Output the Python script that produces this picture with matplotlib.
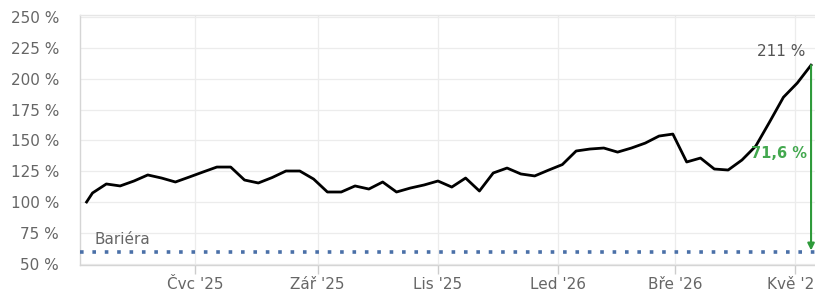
import numpy as np
import pandas as pd
import matplotlib
matplotlib.use("Agg")
import matplotlib.pyplot as plt
import matplotlib.dates as mdates

# ---------- data ----------
start_date = pd.Timestamp('2025-05-07')
weekly_start = pd.Timestamp('2025-05-10')
values = [100.2,
          107.5, 114.8, 113.2, 117.2, 122.1, 119.6, 116.4, 120.4, 124.5, 128.5,
          128.5, 118.0, 115.6, 120.0, 125.3, 125.3, 118.8, 108.3, 108.3, 113.2,
          110.7, 116.4, 108.3, 111.5, 114.0, 117.2, 112.3, 119.6, 109.1, 123.7,
          127.7, 122.9, 121.3, 126.0, 130.5, 141.5, 143.1, 143.9, 140.6, 143.9,
          147.9, 153.6, 155.2, 132.6, 135.8, 126.9, 126.1, 134.2, 145.5, 165.0,
          185.0, 196.5, 211.0]
barrier = 60.0
distance_label = '71,6 %'
last_label = '211 %'
tick_dates = ['2025-07-01', '2025-09-01', '2025-11-01', '2026-01-01', '2026-03-01', '2026-05-01']
tick_labels = ["Čvc '25", "Zář '25", "Lis '25", "Led '26", "Bře '26", "Kvě '26"]
y_ticks = [50, 75, 100, 125, 150, 175, 200, 225, 250]

dates = [start_date] + list(pd.date_range(weekly_start, periods=len(values) - 1, freq='7D'))

plt.rcParams['font.family'] = 'DejaVu Sans'

fig = plt.figure(figsize=(8.15, 2.92), dpi=100)
ax = fig.add_axes([80 / 815, 27 / 292, 735 / 815, 250 / 292])

ax.plot(dates, values, color='black', linewidth=2, solid_joinstyle='round', zorder=4)

# barrier line
ax.axhline(barrier, color='#4a70a8', linewidth=2.6, linestyle=(0, (1.0, 2.43)), zorder=3)
ax.text(pd.Timestamp('2025-05-11'), barrier + 4, 'Bariéra', color='#666666',
        fontsize=11, ha='left', va='bottom')

# distance arrow from last value to barrier
ax.annotate('', xy=(dates[-1], barrier + 1), xytext=(dates[-1], values[-1]),
            arrowprops=dict(arrowstyle='-|>', color='#2e9a3a', lw=1.5,
                            mutation_scale=10, shrinkA=0, shrinkB=0), zorder=5)
ax.text(dates[-1] - pd.Timedelta(days=2), (values[-1] + barrier) / 2 + 4, distance_label,
        color='#43a84f', fontsize=10.5, fontweight='bold', ha='right', va='center', zorder=6)
ax.text(dates[-1] - pd.Timedelta(days=3), values[-1] + 5, last_label,
        color='#555555', fontsize=11, ha='right', va='bottom')

ax.set_xlim(pd.Timestamp('2025-05-03 16:00'), pd.Timestamp('2026-05-11'))
ax.set_ylim(49.2, 251.6)
ax.set_yticks(y_ticks)
ax.set_yticklabels([f'{v} %' for v in y_ticks])
ax.set_xticks([pd.Timestamp(d) for d in tick_dates])
ax.set_xticklabels(tick_labels)

ax.grid(True, color='#ececec', linewidth=0.9)
ax.set_axisbelow(True)
ax.tick_params(axis='y', length=0, pad=15, labelsize=11, labelcolor='#666666')
ax.tick_params(axis='x', length=6.5, width=1, color='#cccccc', pad=2,
               labelsize=11, labelcolor='#666666')
for lab in ax.get_yticklabels():
    lab.set_horizontalalignment('right')
for side in ['left', 'bottom', 'top']:
    ax.spines[side].set_color('#d5d5d5')
    ax.spines[side].set_linewidth(1)
ax.spines['top'].set_color('#e6e6e6')
ax.spines['right'].set_visible(False)

fig.savefig('out.png', dpi=100, facecolor='white')
